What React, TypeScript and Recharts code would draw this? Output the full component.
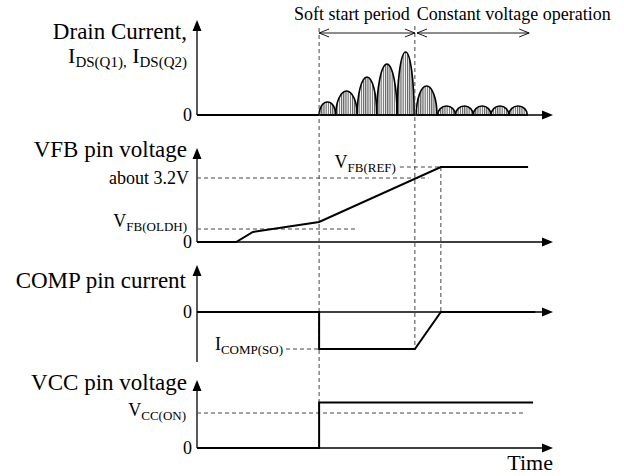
import React from "react";
import { ComposedChart, Line, XAxis, YAxis, ReferenceLine, ReferenceArea, ReferenceDot } from "recharts";

const W = 624;
const H = 476;
const FONT = "'Liberation Serif', 'Times New Roman', serif";

// time axis: 0 = origin of the axes, 100 = tip of the time arrow
const tSoftStart = 34.3;
const tSoftEnd = 61.2;
const tRegulated = 68.5;
const tEnd = 93.3;

// drain current pulses (start, end, peak)
const pulseStart = [34.3, 39, 45, 50.5, 56.2, 61.6, 67.6, 72.6, 77.6, 82.6, 87.6];
const pulseEnd = [39, 45, 50.5, 56.2, 61.0, 67.4, 72.6, 77.6, 82.6, 87.6, 92.8];
const pulsePeak = [13, 24, 38, 51, 63, 29, 9, 9, 9, 9, 9];

const drainTime = [0, 34.3];
const drainCurr = [0, 0];

const vfbTime = [0, 11, 15.7, 34.3, 68.5, 93];
const vfbVolt = [0, 0, 0.5, 1.0, 3.75, 3.75];

const compTime = [0, 34.3, 34.3, 61.2, 68.5, 95];
const compCurr = [0, 0, -1, -1, 0, 0];

const vccTime = [0, 34.3, 34.3, 94.4];
const vccVolt = [0, 0, 13, 13];

const vfbOldh = 0.65;
const vfbAbout = 3.2;
const vfbRef = 3.75;
const iCompSo = -1;
const vccOn = 10;

// vertical placement of each panel: pixel row of zero, pixels per unit
type Panel = { zero: number; ppu: number; top: number; bottom: number };
const P: Record<string, Panel> = {
  drain: { zero: 115, ppu: 1, top: 95, bottom: 0 },
  vfb: { zero: 242, ppu: 20, top: 4.7, bottom: 0 },
  comp: { zero: 312, ppu: 37, top: 1.27, bottom: -1.35 },
  vcc: { zero: 448, ppu: 3.5, top: 19.4, bottom: 0 },
};
const domainOf = (p: Panel) => [(p.zero - H) / p.ppu, p.zero / p.ppu];
const across = (from: Panel, v: number, to: Panel) => (to.zero - (from.zero - v * from.ppu)) / to.ppu;

const zip = (ts: number[], vs: number[]) => ts.map((t, i) => ({ t, v: vs[i] }));

const AxisArrow = (props: any) => {
  const { x1, y1, x2, y2 } = props;
  const a = Math.atan2(y2 - y1, x2 - x1);
  const L = 11, w = 4.5;
  const bx = x2 - L * Math.cos(a), by = y2 - L * Math.sin(a);
  const nx = -Math.sin(a) * w, ny = Math.cos(a) * w;
  return (
    <g>
      <line x1={x1} y1={y1} x2={bx} y2={by} stroke="#000" strokeWidth={1.3} />
      <polygon points={`${x2},${y2} ${bx + nx},${by + ny} ${bx - nx},${by - ny}`} fill="#000" />
    </g>
  );
};

const SpanArrow = (props: any) => {
  const { x1, y1, x2, y2 } = props;
  return (
    <g stroke="#000" strokeWidth={0.9} fill="none">
      <line x1={x1} y1={y1} x2={x2} y2={y2} />
      <polyline points={`${x1 + 10},${y1 - 4} ${x1},${y1} ${x1 + 10},${y1 + 4}`} />
      <polyline points={`${x2 - 10},${y2 - 4} ${x2},${y2} ${x2 - 10},${y2 + 4}`} />
    </g>
  );
};

const Pulse = (props: any) => {
  const { x, y, width, height } = props;
  return (
    <path
      d={`M${x},${y + height} A${width / 2},${height} 0 0 1 ${x + width},${y + height} Z`}
      fill="url(#hatch)"
      stroke="#000"
      strokeWidth={1.6}
    />
  );
};

const txt = (content: React.ReactNode, dx: number, dy: number, size: number, anchor = "end") =>
  (props: any) => (
    <text x={props.cx + dx} y={props.cy + dy} textAnchor={anchor} fontSize={size} fontFamily={FONT} fill="#000">
      {content}
    </text>
  );

const sub = (main: string, s: string, size = 18, subSize = 13, shift = 4) => [
  <tspan key="m" fontSize={size}>{main}</tspan>,
  <tspan key="s" fontSize={subSize} dy={shift}>{s}</tspan>,
];

const dash = { stroke: "#444", strokeWidth: 1, strokeDasharray: "4 3", ifOverflow: "visible" as const };

export default function App() {
  const drainData = zip(drainTime, drainCurr);
  const vfbData = zip(vfbTime, vfbVolt);
  const compData = zip(compTime, compCurr);
  const vccData = zip(vccTime, vccVolt);
  const series = { type: "linear" as const, stroke: "#000", strokeWidth: 2, dot: false, activeDot: false, isAnimationActive: false, dataKey: "v" };

  return (
    <div style={{ position: "absolute", left: 0, top: 0, width: W, height: H, background: "#fff" }}>
      <ComposedChart width={W} height={H} margin={{ top: 0, right: 71, bottom: 0, left: 197 }}>
        <defs>
          <pattern id="hatch" width="2.2" height="4" patternUnits="userSpaceOnUse">
            <line x1="0.6" y1="0" x2="0.6" y2="4" stroke="#333" strokeWidth="0.9" />
          </pattern>
        </defs>
        <XAxis dataKey="t" type="number" domain={[0, 100]} hide allowDataOverflow />
        {Object.keys(P).map((k) => (
          <YAxis key={k} yAxisId={k} type="number" domain={domainOf(P[k])} hide allowDataOverflow />
        ))}

        {/* axes */}
        {Object.keys(P).map((k) => (
          <ReferenceLine key={"x" + k} yAxisId={k} ifOverflow="visible" segment={[{ x: 0, y: 0 }, { x: 100, y: 0 }]} shape={AxisArrow} />
        ))}
        {Object.keys(P).map((k) => (
          <ReferenceLine key={"y" + k} yAxisId={k} ifOverflow="visible" segment={[{ x: 0, y: P[k].bottom }, { x: 0, y: P[k].top }]} shape={AxisArrow} />
        ))}

        {/* guide lines */}
        <ReferenceLine yAxisId="drain" {...dash} segment={[{ x: tSoftStart, y: 87 }, { x: tSoftStart, y: across(P.vcc, vccVolt[2], P.drain) }]} />
        <ReferenceLine yAxisId="drain" {...dash} segment={[{ x: tSoftEnd, y: 89 }, { x: tSoftEnd, y: across(P.comp, iCompSo, P.drain) }]} />
        <ReferenceLine yAxisId="vfb" {...dash} segment={[{ x: tRegulated, y: vfbRef }, { x: tRegulated, y: across(P.comp, 0, P.vfb) }]} />
        <ReferenceLine yAxisId="vfb" {...dash} segment={[{ x: 0, y: vfbOldh }, { x: 45, y: vfbOldh }]} />
        <ReferenceLine yAxisId="vfb" {...dash} segment={[{ x: 0, y: vfbAbout }, { x: 65, y: vfbAbout }]} />
        <ReferenceLine yAxisId="vfb" {...dash} segment={[{ x: 57, y: vfbRef }, { x: tRegulated, y: vfbRef }]} />
        <ReferenceLine yAxisId="comp" {...dash} segment={[{ x: 25, y: iCompSo }, { x: tSoftStart, y: iCompSo }]} />
        <ReferenceLine yAxisId="vcc" {...dash} segment={[{ x: 0, y: vccOn }, { x: 92, y: vccOn }]} />

        {/* period arrows */}
        <ReferenceLine yAxisId="drain" ifOverflow="visible" segment={[{ x: tSoftStart, y: 82 }, { x: tSoftEnd, y: 82 }]} shape={SpanArrow} />
        <ReferenceLine yAxisId="drain" ifOverflow="visible" segment={[{ x: tSoftEnd + 0.6, y: 82 }, { x: tEnd, y: 82 }]} shape={SpanArrow} />

        {/* drain pulses */}
        {pulsePeak.map((pk, i) => (
          <ReferenceArea key={"p" + i} yAxisId="drain" x1={pulseStart[i]} x2={pulseEnd[i]} y1={0} y2={pk} ifOverflow="visible" shape={Pulse} />
        ))}

        <Line yAxisId="drain" data={drainData} {...series} />
        <Line yAxisId="vfb" data={vfbData} {...series} />
        <Line yAxisId="comp" data={compData} {...series} />
        <Line yAxisId="vcc" data={vccData} {...series} />

        {/* texts */}
        <ReferenceDot yAxisId="drain" x={tSoftEnd} y={82} r={0} ifOverflow="visible" shape={txt("Soft start period", -5, -13, 18)} />
        <ReferenceDot yAxisId="drain" x={tSoftEnd} y={82} r={0} ifOverflow="visible" shape={txt("Constant voltage operation", 2, -13, 18, "start")} />

        <ReferenceDot yAxisId="drain" x={0} y={P.drain.top} r={0} ifOverflow="visible" shape={txt("Drain Current,", -10, 19, 23)} />
        <ReferenceDot
          yAxisId="drain" x={0} y={P.drain.top} r={0} ifOverflow="visible"
          shape={txt(
            [
              <tspan key="a" fontSize={22}>I</tspan>,
              <tspan key="b" fontSize={15} dy={4}>DS(Q1),</tspan>,
              <tspan key="c" fontSize={22} dy={-4}> I</tspan>,
              <tspan key="d" fontSize={15} dy={4}>DS(Q2)</tspan>,
            ],
            -10, 43, 22
          )}
        />
        <ReferenceDot yAxisId="vfb" x={0} y={P.vfb.top} r={0} ifOverflow="visible" shape={txt("VFB pin voltage", -10, 9, 23)} />
        <ReferenceDot yAxisId="comp" x={0} y={P.comp.top} r={0} ifOverflow="visible" shape={txt("COMP pin current", -11, 23, 23)} />
        <ReferenceDot yAxisId="vcc" x={0} y={P.vcc.top} r={0} ifOverflow="visible" shape={txt("VCC pin voltage", -10, 10, 23)} />

        {Object.keys(P).map((k) => (
          <ReferenceDot key={"z" + k} yAxisId={k} x={0} y={0} r={0} ifOverflow="visible" shape={txt("0", -5, 6, 18)} />
        ))}
        <ReferenceDot yAxisId="vfb" x={0} y={vfbAbout} r={0} ifOverflow="visible" shape={txt("about 3.2V", -8, 6, 18)} />
        <ReferenceDot yAxisId="vfb" x={0} y={vfbOldh} r={0} ifOverflow="visible" shape={txt(sub("V", "FB(OLDH)"), -10, -2, 18)} />
        <ReferenceDot yAxisId="vfb" x={57} y={vfbRef} r={0} ifOverflow="visible" shape={txt(sub("V", "FB(REF)"), -4, 1, 18)} />
        <ReferenceDot yAxisId="comp" x={25} y={iCompSo} r={0} ifOverflow="visible" shape={txt(sub("I", "COMP(SO)"), -3, 1, 18)} />
        <ReferenceDot yAxisId="vcc" x={0} y={vccOn} r={0} ifOverflow="visible" shape={txt(sub("V", "CC(ON)"), -11, 3, 18)} />
        <ReferenceDot yAxisId="vcc" x={100} y={0} r={0} ifOverflow="visible" shape={txt("Time", 0, 22, 22)} />
      </ComposedChart>
    </div>
  );
}
